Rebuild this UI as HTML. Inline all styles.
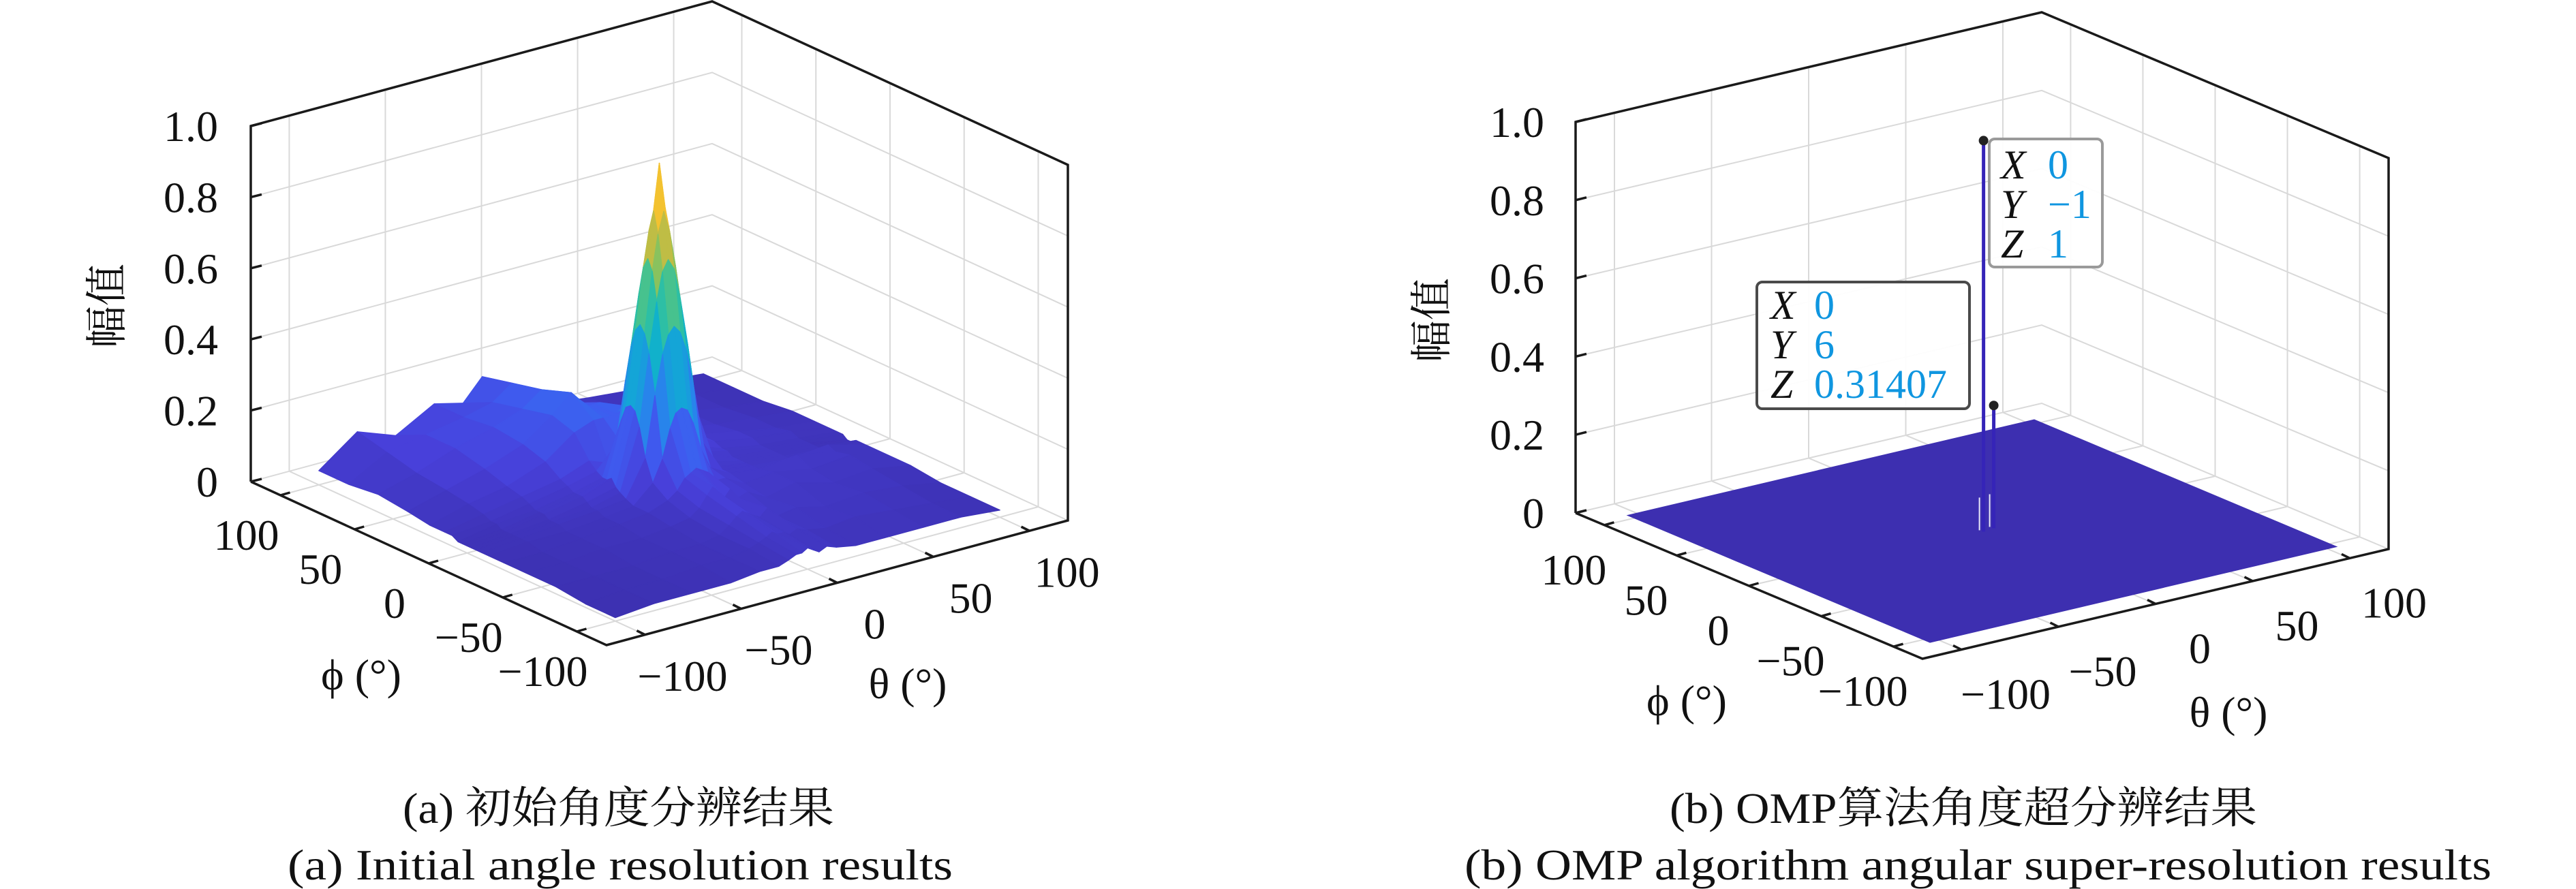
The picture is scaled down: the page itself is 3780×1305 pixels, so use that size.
<!DOCTYPE html>
<html><head><meta charset="utf-8">
<style>
html,body{margin:0;padding:0;background:#fff;}
svg{display:block;}
text{font-family:"Liberation Serif","Noto Serif CJK SC",serif;fill:#111;}
</style></head>
<body>
<svg id="fig" width="3780" height="1305" viewBox="0 0 3780 1305" xmlns="http://www.w3.org/2000/svg">
<g id="panelA"></g>
<g id="panelB"></g>
<text x="591" y="1208" font-size="64" textLength="633" lengthAdjust="spacingAndGlyphs">(a) 初始角度分辨结果</text>
<text x="422" y="1291" font-size="64" textLength="976" lengthAdjust="spacingAndGlyphs">(a) Initial angle resolution results</text>
<text x="2450" y="1208" font-size="64" textLength="862" lengthAdjust="spacingAndGlyphs">(b) OMP算法角度超分辨结果</text>
<text x="2149" y="1291" font-size="64" textLength="1507" lengthAdjust="spacingAndGlyphs">(b) OMP algorithm angular super-resolution results</text>
</svg>
<script>
const thetaVals = [-100,-80,-60,-40,-25,-15,-10,-6,-3,0,3,6,10,15,25,40,60,80,100];
const phiVals = [100,80,60,40,25,15,10,6,3,0,-3,-6,-10,-15,-25,-40,-60,-80,-100];
const zRows = [
[.04,.12,.08,.14,.12,.18,.16,.14,.12,.1,.09,.08,.07,.06,.05,.04,.03,.03,.02],
[.04,.1,.12,.14,.16,.2,.18,.16,.14,.12,.11,.1,.09,.07,.06,.05,.04,.03,.02],
[.05,.08,.12,.15,.18,.22,.2,.18,.17,.16,.15,.13,.12,.1,.08,.06,.05,.03,.02],
[.04,.07,.1,.14,.2,.25,.22,.2,.2,.2,.19,.18,.17,.15,.12,.07,.05,.04,.03],
[.03,.06,.08,.12,.18,.2,.2,.2,.2,.22,.2,.2,.22,.22,.15,.08,.06,.04,.03],
[.03,.05,.07,.09,.12,.1,.16,.24,.28,.29,.28,.24,.16,.12,.12,.08,.06,.05,.03],
[.03,.04,.06,.08,.1,.16,.33,.44,.49,.51,.49,.44,.33,.16,.1,.07,.05,.04,.03],
[.02,.04,.05,.07,.09,.24,.44,.58,.66,.69,.66,.58,.44,.24,.09,.07,.05,.04,.03],
[.02,.03,.05,.07,.09,.28,.49,.66,.76,.82,.76,.66,.49,.28,.08,.06,.05,.04,.02],
[.02,.03,.05,.07,.1,.29,.51,.69,.82,.95,.82,.69,.51,.29,.1,.06,.05,.04,.02],
[.02,.03,.04,.06,.08,.28,.49,.66,.76,.82,.76,.66,.49,.28,.08,.06,.05,.04,.03],
[.02,.03,.04,.05,.07,.24,.44,.58,.66,.69,.66,.58,.44,.24,.07,.06,.05,.04,.03],
[.02,.03,.04,.05,.06,.16,.33,.44,.49,.51,.49,.44,.33,.16,.07,.06,.05,.06,.03],
[.02,.03,.03,.04,.05,.1,.16,.24,.28,.29,.28,.24,.16,.1,.07,.06,.07,.05,.03],
[.02,.02,.03,.04,.05,.07,.09,.12,.13,.14,.13,.12,.09,.09,.06,.07,.05,.06,.03],
[.02,.02,.03,.03,.04,.05,.07,.1,.12,.1,.08,.1,.07,.08,.05,.07,.04,.05,.03],
[.02,.02,.02,.03,.03,.04,.06,.08,.09,.08,.07,.06,.08,.05,.06,.04,.05,.04,.02],
[.01,.02,.02,.03,.03,.04,.05,.06,.07,.06,.06,.05,.06,.05,.04,.05,.04,.03,.02],
[.01,.02,.02,.02,.03,.03,.04,.05,.05,.06,.05,.04,.05,.04,.03,.03,.03,.03,.02]
];
const zTicks = [0,0.2,0.4,0.6,0.8,1.0];
const zTickLabels = ["0","0.2","0.4","0.6","0.8","1.0"];
const angTicks = [-100,-50,0,50,100];
const angTickLabels = ["\u2212100","\u221250","0","50","100"];
// panel b data tips
const tipPeakTheta = [0, 6];
const tipPeakPhi = [-1, 0];
const tipPeakZ = [1, 0.31407];

const NS = "http://www.w3.org/2000/svg";
function mk(parent, tag, attrs){const e=document.createElementNS(NS,tag);for(const k in attrs)e.setAttribute(k,attrs[k]);parent.appendChild(e);return e;}
const stops=[[0,[60,48,176]],[0.1,[72,64,218]],[0.2,[62,92,240]],[0.3,[40,132,235]],[0.4,[20,164,216]],[0.5,[16,184,196]],[0.6,[60,194,150]],[0.7,[140,194,92]],[0.8,[214,186,58]],[0.9,[250,196,46]],[1,[248,245,20]]];
function cmap(t){t=Math.max(0,Math.min(1,t));for(let i=1;i<stops.length;i++){if(t<=stops[i][0]){const a=stops[i-1],b=stops[i];const f=(t-a[0])/(b[0]-a[0]);const c=a[1].map((v,k)=>Math.round(v+(b[1][k]-v)*f));return `rgb(${c[0]},${c[1]},${c[2]})`;}}return 'rgb(248,245,20)';}

function makeAxes(g, L, F, R, zs, opt){
  const lim=120;
  const P=(th,ph,z)=>{const a=(lim-ph)/(2*lim),u=(th+lim)/(2*lim);return [L[0]+(F[0]-L[0])*a+(R[0]-F[0])*u, L[1]+(F[1]-L[1])*a+(R[1]-F[1])*u - zs*z];};
  const grid=mk(g,'g',{stroke:'#d9d9d9','stroke-width':2,fill:'none'});
  
  
  zTicks.forEach(z=>{const a=P(-lim,lim,z),b=P(lim,lim,z),c=P(lim,-lim,z);mk(grid,'polyline',{points:`${a} ${b} ${c}`});});
  angTicks.forEach(t=>{const a=P(t,lim,0),b=P(t,lim,1);mk(grid,'line',{x1:a[0],y1:a[1],x2:b[0],y2:b[1]});
    const c=P(lim,t,0),d=P(lim,t,1);mk(grid,'line',{x1:c[0],y1:c[1],x2:d[0],y2:d[1]});
    const e=P(t,lim,0),f=P(t,-lim,0);mk(grid,'line',{x1:e[0],y1:e[1],x2:f[0],y2:f[1]});
    const h=P(-lim,t,0),i=P(lim,t,0);mk(grid,'line',{x1:h[0],y1:h[1],x2:i[0],y2:i[1]});});
  const surf=mk(g,'g',{});
  
  
  const box=mk(g,'g',{stroke:'#1a1a1a','stroke-width':3.5,fill:'none','stroke-linejoin':'miter'});
  
  
  const LT=P(-lim,lim,1),BT=P(lim,lim,1),RT=P(lim,-lim,1),L0=P(-lim,lim,0),F0=P(-lim,-lim,0),R0=P(lim,-lim,0);
  mk(box,'polyline',{points:`${L0} ${LT} ${BT} ${RT} ${R0} ${F0} ${L0}`});
  zTicks.forEach((z,i)=>{const p=P(-lim,lim,z);mk(box,'line',{x1:p[0],y1:p[1],x2:p[0]+16,y2:p[1]-4});
    const t=mk(g,'text',{x:opt.zx,y:p[1]+22,'font-size':64,'text-anchor':'end'});t.textContent=zTickLabels[i];
    
    });
  angTicks.forEach((v,i)=>{const p=P(-lim,v,0);mk(box,'line',{x1:p[0],y1:p[1],x2:p[0]+14,y2:p[1]-4});
    const t=mk(g,'text',{x:p[0]+opt.phOff[0],y:p[1]+opt.phOff[1]+22,'font-size':64,'text-anchor':'middle'});t.textContent=angTickLabels[i];
    
    
    const q=P(v,-lim,0);mk(box,'line',{x1:q[0],y1:q[1],x2:q[0]-12,y2:q[1]-6});
    const s=mk(g,'text',{x:q[0]+opt.thOff[0],y:q[1]+opt.thOff[1]+22,'font-size':64,'text-anchor':'middle'});s.textContent=angTickLabels[i];
    
    });
  let t=mk(g,'text',{x:opt.phT[0],y:opt.phT[1]+22,'font-size':64,'text-anchor':'middle'});t.textContent='\u03d5 (\u00b0)';
  
  
  t=mk(g,'text',{x:opt.thT[0],y:opt.thT[1]+22,'font-size':64,'text-anchor':'middle'});t.textContent='\u03b8 (\u00b0)';
  
  
  t=mk(g,'text',{x:0,y:0,'font-size':62,'text-anchor':'middle',transform:`translate(${opt.zT[0]+21},${opt.zT[1]}) rotate(-90)`});t.textContent='幅值';
  
  
  return {P,surf};
}

const A=makeAxes(document.getElementById('panelA'),[368,707],[890,947],[1567,764],522,
  {zx:320,phOff:[-50,58],thOff:[55,60],phT:[530,990],thT:[1332,1003],zT:[157,449]});
(function(){
  let zmin=1e9,zmax=-1e9;zRows.forEach(r=>r.forEach(v=>{zmin=Math.min(zmin,v);zmax=Math.max(zmax,v);}));
  const quads=[];
  for(let i=0;i<phiVals.length-1;i++)for(let j=0;j<thetaVals.length-1;j++){
    const pts=[[i,j],[i,j+1],[i+1,j+1],[i+1,j]];
    const avg=pts.reduce((s,[a,b])=>s+zRows[a][b],0)/4;
    const ph=(phiVals[i]+phiVals[i+1])/2, th=(thetaVals[j]+thetaVals[j+1])/2;
    quads.push({pts,avg,depth:(-ph)+(-th)});
  }
  quads.sort((a,b)=>a.depth-b.depth);
  quads.forEach(q=>{
    const pp=q.pts.map(([a,b])=>A.P(thetaVals[b],phiVals[a],zRows[a][b]));
    const col=cmap((q.avg-zmin)/(zmax-zmin));
    const el=mk(A.surf,'polygon',{points:pp.map(p=>p.join(',')).join(' '),fill:col,stroke:col,'stroke-width':1.5,'stroke-linejoin':'round'});
    
    
  });
})();

const Bx=makeAxes(document.getElementById('panelB'),[2312,753],[2821,967],[3505,806],574,
  {zx:2266,phOff:[-45,65],thOff:[65,65],phT:[2475,1028],thT:[3270,1045],zT:[2101,470]});
(function(){
  const P=Bx.P, g=Bx.surf;
  const c=[P(-105,105,0),P(105,105,0),P(105,-105,0),P(-105,-105,0)];
  const pl=mk(g,'polygon',{points:c.map(p=>p.join(',')).join(' '),fill:'#3d2fb0'});
  
  
  tipPeakTheta.forEach((th,i)=>{
    const b=P(th,tipPeakPhi[i],0),t=P(th,tipPeakPhi[i],tipPeakZ[i]);
    const ln=mk(g,'line',{x1:b[0],y1:b[1],x2:t[0],y2:t[1],stroke:'#3524b8','stroke-width':5});
    
    
    const w=mk(g,'line',{x1:b[0]-6,y1:b[1]-2,x2:b[0]-6,y2:b[1]-50,stroke:'#e8e8f8','stroke-width':2});
    
    
  });
  const gb=document.getElementById('panelB');
  function tip(x,y,w,h,stroke,rows,vx,lx,ty,ax,ay){
    const grp=mk(gb,'g',{});
    
    
    mk(grp,'rect',{x,y,width:w,height:h,rx:8,fill:'#ffffff','fill-opacity':0.95,stroke,'stroke-width':4});
    rows.forEach((r,i)=>{
      const a=mk(grp,'text',{x:lx,y:ty+i*58,'font-size':60,'font-style':'italic'});a.textContent=r[0];
      const b=mk(grp,'text',{x:vx,y:ty+i*58,'font-size':60,style:'fill:#0f96e0'});b.textContent=r[1];
    });
    mk(grp,'circle',{cx:ax,cy:ay,r:7,fill:'#222'});
  }
  const t0=P(tipPeakTheta[0],tipPeakPhi[0],tipPeakZ[0]);
  const t1=P(tipPeakTheta[1],tipPeakPhi[1],tipPeakZ[1]);
  tip(2919,204,166,188,'#9a9a9a',[['X','0'],['Y','\u22121'],['Z','1']],3005,2936,262,t0[0],t0[1]);
  tip(2578,414,312,186,'#4a4a4a',[['X','0'],['Y','6'],['Z','0.31407']],2662,2598,468,t1[0],t1[1]);
})();
</script>
</body></html>
